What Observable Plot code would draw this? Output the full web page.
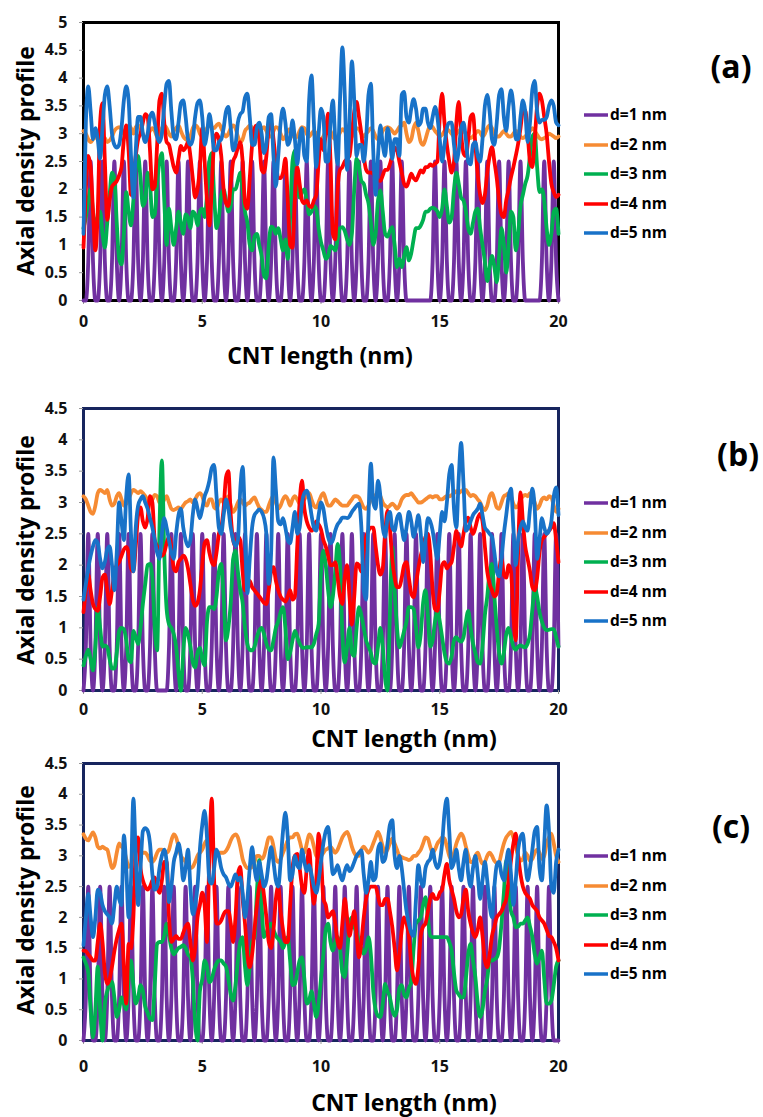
<!DOCTYPE html>
<html>
<head>
<meta charset="utf-8">
<script src="https://cdn.jsdelivr.net/npm/d3@7"></script>
<script src="https://cdn.jsdelivr.net/npm/@observablehq/plot@0.6"></script>
<style>
  html, body { margin: 0; padding: 0; background: #fff; }
  #page { position: relative; width: 763px; height: 1117px; overflow: hidden; font-family: 'Open Sans', 'DejaVu Sans', sans-serif; font-weight: bold; color: #000; }
  .abs { position: absolute; white-space: nowrap; line-height: 1; }
  .ytitle { font-size: 23px; }
  .xtitle { font-size: 23px; }
  .letter { font-size: 32px; }
  .leg { font-size: 15.5px; display: flex; align-items: center; height: 20px; }
  .leg svg { margin-right: 2px; }
</style>
</head>
<body>
<div id="page"></div>
<script>
// ---------------- data ----------------
const seriesNames = ["d=1 nm", "d=2 nm", "d=3 nm", "d=4 nm", "d=5 nm"];
const seriesColors = ["#7030a0", "#f68b33", "#00b050", "#ff0000", "#1872c8"];
const xStep = 0.1;            // sampling step along the CNT (nm), x = 0 … 20
const xTicks = [0, 5, 10, 15, 20];
const yTicksA = [0, 0.5, 1, 1.5, 2, 2.5, 3, 3.5, 4, 4.5, 5];
const yTicksBC = [0, 0.5, 1, 1.5, 2, 2.5, 3, 3.5, 4, 4.5];

// ---- panel (a)
const a_d1 = [
0,0,0.7,2.5,0.7,0,0,0.7,2.5,0.7, 0,0,0.7,2.5,0.7,0,0.7,2.5,0.7,0,
0,0.7,2.5,0.7,0,0.7,2.5,0.7,0,0, 0.7,2.5,0.7,0,0.7,2.5,0.7,0,0,0.7,
2.5,0.7,0,0.7,2.5,0.7,0,0,0.7,2.5, 0.7,0,0.7,2.5,0.7,0,0,0.7,2.5,0.7,
0,0.7,2.5,0.7,0,0,0.7,2.5,0.7,0, 0.7,2.5,0.7,0,0,0.7,2.5,0.7,0,0.7,
2.5,0.7,0,0,0.7,2.5,0.7,0,0.7,2.5, 0.7,0,0,0.7,2.5,0.7,0,0.7,2.5,0.7,
0,0,0.7,2.5,0.7,0,0.7,2.5,0.7,0, 0,0.7,2.5,0.7,0,0.7,2.5,0.7,0,0,
0.7,2.5,0.7,0,0.7,2.5,0.7,0,0,0.7, 2.5,0.7,0,0.7,2.5,0.7,0,0,0,0,
0,0,0,0,0,0,0,0.7,2.5,0.7, 0,0.7,2.5,0.7,0,0,0.7,2.5,0.7,0,
0.7,2.5,0.7,0,0,0.7,2.5,0.7,0,0.7, 2.5,0.7,0,0,0.7,2.5,0.7,0,0.7,2.5,
0.7,0,0,0.7,2.5,0.7,0,0,0,0, 0,0,0,0.7,2.5,0.7,0,0.7,2.5,0.7,
0];
const a_d2 = [
3.05,3.0,2.9,2.85,2.9,2.95,2.9,2.88,2.95,2.92, 2.85,2.88,2.95,3.05,3.1,3.12,3.08,3.0,3.1,3.15,
3.1,3.0,3.12,3.15,3.1,3.0,2.92,2.95,3.05,3.1, 3.05,2.95,3.0,3.1,3.15,3.1,3.0,2.95,3.05,3.1,
3.15,3.05,2.95,2.9,2.88,2.95,3.1,3.15,3.12,3.0, 2.95,3.0,3.1,3.15,3.12,3.1,3.15,3.18,3.1,3.0,
2.95,3.0,3.1,3.15,3.1,2.95,2.85,2.9,3.05,3.1, 3.15,3.1,3.0,2.95,3.0,3.08,3.12,3.05,2.95,2.95,
3.05,3.12,3.1,3.0,2.9,2.95,3.05,3.08,3.0,2.92, 2.95,3.05,3.12,3.1,3.0,2.95,3.0,3.05,3.0,2.92,
2.9,2.95,3.05,3.1,3.05,2.95,2.9,2.95,3.02,3.08, 3.05,2.95,2.9,2.95,3.05,3.1,3.08,3.0,2.95,3.0,
3.05,3.1,3.05,2.95,2.9,2.95,3.05,3.1,3.12,3.1, 3.05,3.0,3.05,3.12,3.15,3.2,3.0,2.85,2.9,3.1,
3.2,3.05,2.85,2.8,2.9,3.05,3.15,3.12,3.05,3.0, 2.95,2.98,3.05,3.08,3.05,3.0,2.95,3.0,3.05,3.08,
3.05,3.0,2.95,2.92,2.95,3.0,3.05,3.02,2.95,3.0, 3.1,3.15,3.1,3.0,2.95,2.95,3.0,3.05,3.0,2.95,
2.95,3.0,3.05,3.02,2.95,2.92,2.95,3.0,3.05,3.1, 3.05,2.98,2.92,2.9,2.92,2.95,3.0,2.98,2.95,2.92,
2.95];
const a_d3 = [
1.3,1.5,1.8,2.0,1.6,1.3,1.5,1.6,1.2,0.95, 1.4,1.9,2.3,2.2,1.4,0.75,0.65,1.2,1.95,1.6,
1.35,1.8,2.4,2.6,2.2,1.7,1.8,2.3,2.1,1.5, 1.55,2.1,2.5,2.65,1.8,1.0,1.65,1.3,1.0,1.3,
1.6,1.4,1.2,1.55,1.5,1.3,1.6,1.55,1.35,1.6, 1.65,1.5,1.9,2.5,2.65,1.9,1.3,1.5,1.9,2.0,
1.8,1.6,1.7,2.0,2.0,2.15,2.3,2.0,1.6,1.4, 1.0,0.9,1.15,1.2,1.0,0.8,0.45,0.4,1.0,1.33,
1.3,1.2,1.3,1.1,0.9,1.1,0.75,1.5,2.5,2.7, 2.1,1.85,1.95,2.0,1.8,1.55,1.6,1.7,1.65,1.3,
1.05,0.9,0.75,0.8,0.98,0.95,0.9,1.1,1.3,1.32, 1.25,1.1,1.0,1.2,2.0,2.55,2.4,2.15,2.1,1.9,
1.75,1.4,1.0,1.2,1.8,1.98,1.6,1.2,1.15,1.25, 1.32,1.0,0.6,0.75,0.6,0.8,0.96,0.72,0.85,1.1,
1.3,1.3,1.35,1.45,1.6,1.6,1.65,1.67,1.65,1.6, 1.5,1.65,2.0,1.7,1.4,1.5,2.0,2.3,2.1,1.85,
1.8,1.6,1.3,1.2,1.4,1.6,1.65,1.3,1.0,0.7, 0.35,0.6,0.8,0.6,0.33,0.8,1.3,1.0,0.5,1.0,
1.6,1.5,0.9,1.2,1.7,1.9,2.1,2.25,2.6,2.95, 3.0,2.4,1.95,2.0,1.8,1.3,1.0,1.2,1.6,1.65,
1.2];
const a_d4 = [
0.95,2.0,2.6,2.4,1.6,0.9,1.6,3.2,3.55,2.5, 1.45,1.8,2.05,2.1,2.15,2.25,2.4,2.9,3.15,2.7,
1.9,2.2,2.6,2.9,3.0,3.2,3.35,3.3,2.7,2.0, 2.05,2.8,3.6,3.72,3.2,2.85,2.8,2.6,2.4,2.3,
2.55,2.78,2.7,2.75,2.85,2.6,2.2,1.85,2.0,2.4, 3.1,2.5,1.8,1.35,2.0,2.85,3.0,2.9,2.6,2.0,
1.75,1.7,2.1,2.5,2.6,2.75,2.85,2.5,1.75,1.65, 2.2,2.8,3.1,3.15,2.9,2.35,2.3,2.6,3.1,3.2,
2.9,2.5,2.2,2.2,2.3,2.55,1.8,1.0,0.95,1.8, 2.4,2.1,1.8,1.75,1.8,1.7,1.68,1.8,1.9,2.5,
2.9,2.7,3.0,3.36,2.5,1.2,1.1,2.0,2.35,2.4, 2.5,2.55,2.6,3.0,3.4,3.57,3.3,3.0,2.6,2.35,
2.3,2.3,2.28,2.2,2.16,2.15,2.25,2.35,2.35,2.45, 2.6,2.75,2.7,2.5,2.3,2.1,2.05,2.15,2.28,2.2,
2.16,2.25,2.34,2.3,2.4,2.4,2.45,2.42,2.46,2.5, 3.3,3.72,3.2,2.8,2.5,2.3,2.5,3.2,3.57,3.0,
2.65,2.6,2.9,3.3,3.35,2.8,2.25,1.9,1.75,1.9, 2.3,2.6,2.76,2.5,2.2,1.8,1.55,1.5,1.8,2.0,
2.22,2.4,2.6,2.82,3.1,3.4,3.42,3.0,2.5,2.4, 2.9,3.5,3.72,3.6,3.3,3.0,2.5,2.1,1.95,1.86,
1.9];
const a_d5 = [
1.2,3.2,3.85,3.4,2.9,3.1,2.9,2.55,3.1,3.7, 3.85,3.5,3.0,2.8,2.75,2.8,3.1,3.6,3.85,3.6,
2.6,1.85,2.7,3.3,3.3,3.0,2.85,3.0,3.3,3.38, 3.2,2.95,2.85,3.0,3.5,3.9,3.95,3.4,2.95,2.9,
3.2,3.55,3.6,3.3,2.9,2.8,2.9,3.3,3.55,3.6, 3.3,2.8,3.0,3.35,3.1,2.7,2.7,2.85,2.9,3.1,
3.4,3.48,3.1,2.7,2.8,3.2,3.35,3.4,3.65,3.72, 3.3,2.8,2.8,3.1,3.2,3.0,2.65,2.8,3.3,3.35,
2.6,2.05,2.6,3.2,3.45,3.2,2.8,2.9,3.24,2.9, 2.45,2.9,3.1,2.6,2.5,3.6,4.05,3.2,2.4,3.0,
3.45,3.3,2.5,2.5,3.2,3.6,2.9,2.45,3.6,4.55, 3.7,2.35,3.2,4.3,3.6,2.6,2.8,2.8,2.5,2.9,
3.7,3.9,2.7,1.9,2.6,3.15,2.8,2.6,3.1,2.9, 2.55,2.9,2.9,2.6,3.7,3.75,3.3,3.2,3.45,3.62,
3.45,3.15,3.2,3.45,3.45,3.2,3.1,3.3,3.48,3.3, 2.9,2.5,2.8,3.1,3.2,3.2,2.8,2.5,2.7,3.1,
3.2,2.9,2.5,2.45,2.8,2.85,2.6,2.5,2.9,3.5, 3.7,3.4,2.9,2.8,3.2,3.7,3.8,3.3,3.05,3.5,
3.78,3.5,2.9,2.9,3.3,3.6,3.4,2.85,3.2,3.8, 3.95,3.4,3.2,3.25,3.25,3.3,3.5,3.6,3.5,3.2,
3.15];

// ---- panel (b)
const b_d1 = [
0,0.7,2.5,0.7,0,0.7,2.5,0.7,0,0.7, 2.5,0.7,0,0,0.7,2.5,0.7,0,0.7,2.5,
0.7,0,0,0.7,2.5,0.7,0,0,0.7,2.5, 0.7,0,0,0,0,0,0.7,2.5,0.7,0,
0.7,2.5,0.7,0,0,0.7,2.5,0.7,0,0.7, 2.5,0.7,0,0,0.7,2.5,0.7,0,0.7,2.5,
0.7,0,0,0.7,2.5,0.7,0,0.7,2.5,0.7, 0,0,0.7,2.5,0.7,0,0.7,2.5,0.7,0,
0,0.7,2.5,0.7,0,0.7,2.5,0.7,0,0, 0.7,2.5,0.7,0,0.7,2.5,0.7,0,0,0.7,
2.5,0.7,0,0.7,2.5,0.7,0,0,0.7,2.5, 0.7,0,0.7,2.5,0.7,0,0,0.7,2.5,0.7,
0,0.7,2.5,0.7,0,0,0.7,2.5,0.7,0, 0.7,2.5,0.7,0,0,0.7,2.5,0.7,0,0.7,
2.5,0.7,0,0,0.7,2.5,0.7,0,0.7,2.5, 0.7,0,0,0.7,2.5,0.7,0,0.7,2.5,0.7,
0,0,0.7,2.5,0.7,0,0.7,2.5,0.7,0, 0,0.7,2.5,0.7,0,0.7,2.5,0.7,0,0,
0.7,2.5,0.7,0,0.7,2.5,0.7,0,0,0.7, 2.5,0.7,0,0.7,2.5,0.7,0,0,0.7,2.5,
0.7];
const b_d2 = [
3.1,3.05,2.95,2.85,2.82,2.95,3.15,3.2,3.18,3.15, 3.2,3.05,2.95,2.98,3.1,3.15,3.05,2.95,2.98,3.05,
3.15,3.2,3.18,3.15,3.18,3.15,3.1,3.05,3.0,3.05, 3.12,3.1,3.0,2.98,3.05,3.1,3.0,2.9,2.88,2.9,
2.92,2.9,2.95,3.0,3.02,3.05,3.0,3.05,3.12,3.15, 3.1,2.98,2.95,3.05,3.05,2.92,2.9,3.0,3.05,3.0,
3.05,3.1,2.95,2.85,2.9,3.0,3.05,3.0,2.95,2.98, 3.0,3.05,3.08,3.0,2.92,2.88,2.85,2.85,2.95,3.05,
3.1,3.0,2.9,2.95,3.05,3.1,3.05,2.95,3.05,3.1, 3.05,2.98,3.0,3.05,3.12,3.15,3.05,2.95,2.92,3.0,
3.1,3.15,3.05,2.95,2.95,3.0,3.05,3.02,2.98,2.95, 2.95,2.95,3.0,3.05,3.1,3.1,3.08,3.0,2.92,2.9,
2.95,3.05,3.1,3.12,3.15,3.1,3.0,2.95,2.92,2.95, 2.98,2.95,2.9,2.95,3.05,3.1,3.12,3.12,3.15,3.1,
3.05,3.0,3.0,3.02,3.05,3.08,3.1,3.08,3.1,3.1, 3.05,3.05,3.08,3.1,3.1,3.12,3.15,3.18,3.15,3.18,
3.2,3.2,3.15,3.1,3.12,3.1,3.05,3.0,2.92,2.88, 2.95,3.1,3.15,3.05,2.92,2.9,3.0,3.1,3.12,3.15,
3.1,2.98,2.92,2.95,3.05,3.1,3.12,3.1,3.15,3.12, 3.0,2.9,2.95,3.05,3.08,3.05,3.1,3.08,2.95,2.85,
2.9];
const b_d3 = [
0.4,0.55,0.65,0.5,0.32,0.7,1.33,1.0,0.7,0.72, 0.69,0.5,0.35,0.35,0.6,0.95,1.0,0.98,0.8,0.5,
0.45,0.95,0.85,0.74,1.0,1.38,1.7,2.0,2.02,1.8, 1.0,0.64,2.6,3.67,2.2,1.3,1.06,1.0,0.9,0.7,
0.3,0.0,0.6,1.0,0.9,0.7,0.45,0.37,0.6,0.68, 0.5,0.4,1.1,1.33,1.33,1.3,1.5,1.9,2.02,1.5,
0.8,1.0,1.4,2.1,2.23,1.9,1.6,1.4,1.0,0.74, 0.65,0.64,0.7,0.85,0.96,1.0,0.9,0.75,0.66,0.64,
0.8,1.0,1.1,1.25,1.33,1.0,0.5,0.6,0.8,0.95, 0.85,0.75,0.69,0.68,0.69,0.69,0.69,0.75,0.9,1.06,
1.9,2.23,2.0,1.6,1.33,1.5,1.9,2.34,2.0,0.9, 0.45,0.7,1.0,0.6,0.55,1.0,1.33,1.2,1.0,0.8,
0.7,0.6,0.45,0.43,0.7,1.0,0.7,0.2,0.0,1.2, 2.29,1.6,1.0,0.69,0.8,0.95,1.1,1.33,1.33,1.3,
1.0,0.69,0.9,1.4,1.6,1.2,0.7,0.8,1.1,1.27, 1.1,0.85,0.6,0.45,0.43,0.55,0.8,0.85,0.8,0.78,
0.85,1.1,1.27,1.0,0.75,0.6,0.45,0.43,0.7,1.2, 1.5,1.9,2.02,1.5,1.0,0.6,0.43,0.6,0.9,1.0,
0.85,0.7,0.65,0.7,0.72,0.7,0.69,0.75,0.9,1.3, 1.65,1.5,1.25,1.1,1.0,0.96,0.97,0.98,0.98,0.85,
0.7];
const b_d4 = [
1.25,1.6,1.85,1.6,1.38,1.3,1.27,1.5,1.8,1.85, 1.6,1.38,1.6,1.9,2.0,2.05,2.15,2.25,2.29,2.2,
1.95,1.9,2.3,2.8,2.92,2.7,2.6,2.75,3.1,3.0, 2.4,2.3,2.2,2.15,2.2,2.35,2.45,2.3,1.95,1.9,
2.05,2.1,2.15,2.1,1.95,1.7,1.45,1.35,1.4,1.6, 2.0,2.35,2.4,2.2,2.05,2.0,2.2,2.5,2.6,2.9,
3.4,3.5,2.8,2.4,2.3,2.45,2.4,1.9,1.6,1.65, 1.75,1.65,1.6,1.55,1.5,1.45,1.4,1.38,1.6,1.9,
1.97,1.75,1.6,1.5,1.45,1.42,1.5,1.6,1.45,1.5, 2.3,3.0,3.35,2.9,2.7,2.6,2.55,2.6,2.7,2.65,
2.57,2.4,2.3,2.15,2.0,2.0,2.05,1.8,1.5,1.38, 1.8,2.0,1.5,1.05,1.5,2.03,2.0,1.9,2.2,2.45,
2.55,2.6,2.6,2.3,2.0,1.85,1.95,2.5,2.87,2.6, 2.1,1.8,1.65,1.65,1.8,2.0,2.05,1.8,1.55,1.49,
1.7,1.95,2.15,2.3,2.45,2.5,2.2,1.6,1.3,1.27, 1.6,2.0,2.05,1.95,2.0,2.05,2.3,2.55,2.4,2.3,
2.5,2.7,2.76,2.6,2.5,2.6,2.75,2.82,2.7,2.3, 1.9,1.7,1.6,1.5,1.55,1.9,2.1,1.85,1.8,2.0,
1.9,1.2,0.8,2.2,3.16,2.7,2.3,2.1,1.9,1.65, 1.6,1.8,2.2,2.4,2.45,2.5,2.55,2.6,2.67,2.4,
2.05];
const b_d5 = [
1.45,1.7,1.95,2.15,2.3,2.4,2.35,2.1,1.95,2.05, 2.25,2.3,2.0,1.6,2.2,3.0,2.7,2.4,3.1,3.45,
2.5,1.9,2.6,2.95,3.05,3.1,3.0,2.9,2.75,2.6, 2.4,2.2,2.1,2.5,2.75,2.6,2.4,2.2,2.1,2.5,
2.8,2.9,2.6,2.4,2.3,2.4,2.8,3.05,2.9,2.75, 2.9,3.1,3.2,3.35,3.55,3.6,3.1,2.6,2.5,2.8,
3.05,2.9,2.6,2.4,2.3,2.4,3.2,3.57,2.7,1.55, 2.1,2.6,2.8,2.85,2.89,2.85,2.75,2.5,1.7,2.2,
3.72,3.2,2.7,2.65,2.75,2.6,2.4,2.35,2.6,2.85, 2.5,2.6,3.0,3.15,3.19,3.05,2.8,2.6,2.55,2.8,
3.0,2.9,2.65,2.45,2.35,2.4,2.55,2.65,2.7,2.76, 2.76,2.75,2.78,2.85,2.9,2.95,2.98,2.6,1.6,1.45,
2.8,3.62,3.0,2.9,3.35,3.1,2.6,2.45,2.75,2.85, 2.6,2.55,2.75,2.82,2.6,2.4,2.6,2.85,2.7,2.45,
2.6,2.8,2.5,2.05,2.4,2.75,2.7,2.55,2.3,2.1, 2.5,2.85,2.7,3.0,3.45,3.6,2.9,2.6,3.4,3.95,
3.3,2.55,2.6,2.7,2.8,2.85,2.9,2.98,2.8,2.6, 2.55,2.5,2.45,2.2,1.9,1.82,2.1,2.5,2.8,3.1,
3.22,2.6,2.0,2.4,2.6,2.7,2.6,2.55,2.9,3.22, 2.9,2.1,2.4,2.75,2.6,2.5,2.55,2.7,3.1,3.24,
2.8];

// ---- panel (c)
const c_d1 = [
0,0.7,2.5,0.7,0,0,0.7,2.5,0.7,0, 0.7,2.5,0.7,0,0,0.7,2.5,0.7,0,0.7,
2.5,0.7,0,0,0.7,2.5,0.7,0,0.7,2.5, 0.7,0,0,0.7,2.5,0.7,0,0.7,2.5,0.7,
0,0,0.7,2.5,0.7,0,0.7,2.5,0.7,0, 0,0.7,2.5,0.7,0,0.7,2.5,0.7,0,0,
0.7,2.5,0.7,0,0.7,2.5,0.7,0,0,0.7, 2.5,0.7,0,0.7,2.5,0.7,0,0,0.7,2.5,
0.7,0,0.7,2.5,0.7,0,0,0.7,2.5,0.7, 0,0.7,2.5,0.7,0,0,0.7,2.5,0.7,0,
0.7,2.5,0.7,0,0,0.7,2.5,0.7,0,0.7, 2.5,0.7,0,0,0.7,2.5,0.7,0,0.7,2.5,
0.7,0,0,0.7,2.5,0.7,0,0.7,2.5,0.7, 0,0,0.7,2.5,0.7,0,0.7,2.5,0.7,0,
0,0.7,2.5,0.7,0,0.7,2.5,0.7,0,0, 0.7,2.5,0.7,0,0.7,2.5,0.7,0,0,0.7,
2.5,0.7,0,0.7,2.5,0.7,0,0,0.7,2.5, 0.7,0,0.7,2.5,0.7,0,0,0.7,2.5,0.7,
0,0.7,2.5,0.7,0,0,0.7,2.5,0.7,0, 0.7,2.5,0.7,0,0,0.7,2.5,0.7,0,0,
0];
const c_d2 = [
3.35,3.28,3.25,3.32,3.38,3.3,3.15,3.12,3.15,3.12, 3.1,2.95,2.8,2.85,3.05,3.2,3.15,3.1,2.95,2.82,
2.85,3.05,3.2,3.1,3.05,3.05,3.05,3.0,2.92,2.9, 2.95,3.05,3.1,3.1,3.08,3.05,3.1,3.25,3.35,3.3,
3.15,3.0,2.95,2.9,2.82,2.8,2.82,2.9,3.0,3.05, 3.1,3.2,3.25,3.25,3.2,3.1,3.05,3.05,3.05,3.05,
3.08,3.15,3.25,3.32,3.35,3.3,3.15,2.95,2.85,2.8, 2.8,2.82,2.9,3.0,3.0,2.95,3.0,3.15,3.3,3.3,
3.15,2.95,2.9,2.95,3.05,3.15,3.25,3.3,3.3,3.35, 3.36,3.25,3.1,3.05,3.2,3.35,3.3,3.15,3.0,2.98,
3.0,3.05,3.1,3.12,3.15,3.1,3.05,3.1,3.2,3.3, 3.36,3.39,3.3,3.15,3.05,3.0,3.0,3.1,3.15,3.1,
3.05,3.1,3.2,3.3,3.39,3.3,3.15,3.05,3.1,3.2, 3.28,3.2,3.1,3.0,2.98,2.96,2.95,2.93,2.95,3.0,
3.0,3.05,3.1,3.2,3.3,3.28,3.15,3.05,3.1,3.2, 3.25,3.3,3.28,3.15,3.0,2.95,3.05,3.2,3.3,3.36,
3.3,3.15,3.0,2.9,2.9,3.0,3.05,2.95,2.87,2.9, 3.0,3.05,3.0,2.92,2.88,2.9,3.05,3.2,3.3,3.35,
3.39,3.3,3.15,3.0,2.92,2.95,3.05,3.0,2.92,2.95, 3.05,3.1,3.05,2.95,3.0,3.2,3.3,3.36,3.2,3.0,
2.9];
const c_d3 = [
1.35,1.25,1.1,0.5,0.05,0.5,1.2,0.5,0.0,0.6, 0.8,0.9,0.95,0.7,0.38,0.5,0.7,0.6,0.5,1.0,
1.3,0.9,0.6,0.7,0.9,0.8,0.55,0.45,0.35,0.33, 0.9,1.57,1.6,1.6,1.7,1.9,1.7,1.5,1.4,1.45,
1.5,1.52,1.55,1.5,1.4,1.35,1.0,0.3,0.0,0.8, 1.0,1.3,1.2,0.95,1.0,1.15,1.25,1.3,1.3,1.25,
1.2,1.0,0.75,0.65,0.9,1.3,1.6,1.68,1.2,0.9, 1.2,1.6,1.68,2.4,2.93,2.2,1.68,1.75,1.85,1.9,
1.8,1.7,1.65,1.6,1.5,1.6,1.68,1.3,0.9,0.92, 1.1,1.3,1.35,1.0,0.6,0.65,0.8,0.6,0.38,0.6,
1.0,1.4,1.8,1.9,1.6,1.46,1.6,1.68,1.5,1.1, 1.03,1.4,1.9,2.0,1.85,1.75,1.6,1.5,1.41,1.5,
1.68,1.4,0.8,0.5,0.4,0.38,0.6,0.92,0.8,0.7, 0.5,0.4,0.5,0.85,0.9,0.75,0.7,0.85,0.95,1.5,
1.9,1.95,2.0,2.2,2.33,2.0,1.7,1.68,1.68,1.68, 1.68,1.68,1.68,1.68,1.6,1.46,1.1,0.81,0.75,0.7,
0.7,1.0,1.4,1.57,1.3,1.03,0.6,0.38,0.5,0.8, 1.0,1.3,1.3,1.32,1.35,1.5,1.9,2.4,2.93,2.6,
2.1,2.0,1.84,1.85,1.9,1.9,1.95,2.0,1.85,1.68, 1.4,1.25,1.35,1.46,1.0,0.6,0.6,0.65,0.9,1.2,
1.3];
const c_d4 = [
1.46,1.45,1.4,1.35,1.3,1.3,1.6,1.9,1.6,1.1, 0.92,1.0,1.2,1.45,1.65,1.8,1.9,1.2,0.6,1.57,
1.5,2.0,3.1,3.3,2.8,2.6,2.5,2.45,2.5,2.6, 2.65,2.5,2.4,2.6,2.9,2.9,2.0,1.6,1.65,1.7,
1.65,1.65,1.75,1.85,1.9,1.6,1.3,1.5,2.0,2.2, 2.4,2.2,1.6,3.0,3.93,2.6,1.9,1.9,1.95,2.05,
2.1,2.1,1.9,1.6,2.0,2.7,2.82,2.3,1.9,1.4, 1.19,1.4,1.8,2.2,2.5,2.6,2.35,2.0,1.6,1.5,
1.8,2.3,2.5,2.1,1.8,1.6,1.6,2.2,2.8,3.0, 3.03,2.8,2.5,2.4,2.8,3.1,2.6,2.22,2.6,3.36,
3.0,2.3,2.2,2.0,2.05,2.1,1.9,1.6,1.5,1.9, 2.3,2.0,1.7,1.9,2.1,1.7,1.35,1.6,2.0,2.3,
2.45,2.5,2.5,2.5,2.35,2.2,2.2,2.3,2.3,2.1, 1.85,1.5,1.14,1.4,1.8,2.0,1.9,1.7,1.25,1.0,
0.92,1.2,1.7,1.85,1.9,2.1,2.3,2.38,2.3,2.3, 2.4,2.45,2.7,2.87,2.6,2.45,2.3,2.1,2.0,2.05,
2.3,2.45,2.1,1.9,1.75,1.68,1.8,2.0,1.7,1.3, 1.19,1.4,1.7,1.85,2.0,2.05,2.1,2.2,2.3,2.6,
2.93,3.2,3.36,3.0,2.7,2.5,2.4,2.35,2.3,2.2, 2.15,2.1,2.0,1.95,1.9,1.8,1.7,1.68,1.6,1.5,
1.3];
const c_d5 = [
1.55,2.0,2.38,2.0,1.68,2.0,2.45,2.4,2.2,2.1, 2.05,2.0,1.9,2.2,2.5,2.3,2.2,3.33,2.8,2.0,
2.6,3.93,3.0,2.2,2.8,3.4,3.45,3.41,3.2,2.7, 2.45,2.5,2.8,3.0,3.1,2.9,2.25,2.5,2.9,3.05,
3.2,3.0,2.6,2.8,3.1,2.5,2.05,2.2,2.5,3.1, 3.5,3.73,3.3,2.6,2.55,2.8,3.1,3.0,2.8,2.7,
2.65,2.55,2.5,2.6,2.7,2.6,2.65,2.4,2.0,2.3, 2.8,3.14,2.8,2.6,2.9,2.7,2.5,2.6,2.9,3.14,
2.9,2.6,2.5,2.9,3.4,3.7,3.3,2.6,2.7,3.0, 2.85,2.8,3.1,2.9,2.75,2.85,2.7,2.5,2.4,2.6,
2.9,3.2,3.4,3.47,3.1,2.7,2.75,2.85,2.7,2.6, 2.75,2.85,2.75,2.8,2.9,3.0,3.05,3.09,2.7,2.4,
2.6,2.9,2.6,2.65,3.1,3.2,2.9,2.95,3.2,3.5, 3.58,3.0,2.8,3.0,2.8,2.44,2.1,1.9,1.75,1.7,
2.3,2.85,2.6,2.5,2.8,2.9,2.95,3.1,2.9,2.8, 2.9,3.2,3.7,3.93,3.4,2.8,2.9,3.1,2.8,2.6,
2.9,3.1,2.7,2.5,2.8,3.0,2.7,2.3,2.6,2.9, 2.6,2.2,2.0,2.5,2.85,2.9,2.7,2.6,2.9,3.1,
2.7,2.2,2.6,3.1,3.3,3.36,2.9,2.6,2.8,3.1, 3.4,3.47,2.8,2.6,3.2,3.82,3.4,2.5,2.4,2.9,
3.1];

// ---------------- layout ----------------
const panels = [
  { letter: "(a)", top: 0,   height: 370, mt: 22, mb: 70, ymax: 5,   yTicks: yTicksA,  frame: "#000000",
    series: [a_d1, a_d2, a_d3, a_d4, a_d5], xPad: 11, letterPos: [731, 66], legendTop: 115, xTitleY: 355, xTitleX: 320, yTitleY: 161 },
  { letter: "(b)", top: 370, height: 360, mt: 38, mb: 40, ymax: 4.5, yTicks: yTicksBC, frame: "#17255e",
    series: [b_d1, b_d2, b_d3, b_d4, b_d5], xPad: 9, letterPos: [738, 454], legendTop: 503, xTitleY: 738, xTitleX: 404, yTitleY: 550 },
  { letter: "(c)", top: 745, height: 372, mt: 18, mb: 77, ymax: 4.5, yTicks: yTicksBC, frame: "#17255e",
    series: [c_d1, c_d2, c_d3, c_d4, c_d5], xPad: 16, letterPos: [731, 826], legendTop: 856, xTitleY: 1102, xTitleX: 404, yTitleY: 900 }
];

const page = document.getElementById("page");

function addDiv(cls, text, x, y, transform) {
  const d = document.createElement("div");
  d.className = "abs " + cls;
  d.textContent = text;
  d.style.left = x + "px";
  d.style.top = y + "px";
  d.style.transform = transform || "translate(-50%,-50%)";
  page.appendChild(d);
  return d;
}

panels.forEach(p => {
  const rows = [];
  p.series.forEach((arr, k) => arr.forEach((v, i) => rows.push({ x: +(i * xStep).toFixed(1), y: v, s: seriesNames[k] })));

  const chart = Plot.plot({
    width: 763,
    height: p.height,
    marginLeft: 83,
    marginRight: 205,
    marginTop: p.mt,
    marginBottom: p.mb,
    style: { fontFamily: "'Open Sans', sans-serif", fontSize: "16px", fontWeight: "bold", color: "#111", background: "transparent", overflow: "visible" },
    x: { domain: [0, 20] },
    y: { domain: [0, p.ymax] },
    color: { domain: seriesNames, range: seriesColors },
    marks: [
      Plot.frame({ stroke: p.frame, strokeWidth: 3 }),
      Plot.axisY({ ticks: p.yTicks, tickSize: 4, tickPadding: 12, tickFormat: d => String(d), label: null, stroke: "#999" }),
      Plot.axisX({ ticks: xTicks, tickSize: 4, tickPadding: p.xPad, tickFormat: d => String(d), label: null, stroke: "#999" }),
      Plot.line(rows, { x: "x", y: "y", z: "s", stroke: "s", strokeWidth: 3.8, curve: "monotone-x", strokeLinejoin: "round" })
    ]
  });
  chart.style.position = "absolute";
  chart.style.left = "0px";
  chart.style.top = p.top + "px";
  page.appendChild(chart);

  // axis titles
  addDiv("ytitle", "Axial density profile", 25, p.yTitleY, "translate(-50%,-50%) rotate(-90deg)");
  addDiv("xtitle", "CNT length (nm)", p.xTitleX, p.xTitleY);
  // panel letter
  addDiv("letter", p.letter, p.letterPos[0], p.letterPos[1]);
  // legend
  seriesNames.forEach((name, k) => {
    const row = document.createElement("div");
    row.className = "abs leg";
    row.style.left = "584px";
    row.style.top = (p.legendTop + k * 29.5 - 10) + "px";
    row.innerHTML = `<svg width="24" height="6"><line x1="0" y1="3" x2="24" y2="3" stroke="${seriesColors[k]}" stroke-width="3.5"/></svg><span>${name}</span>`;
    page.appendChild(row);
  });
});
</script>
</body>
</html>
